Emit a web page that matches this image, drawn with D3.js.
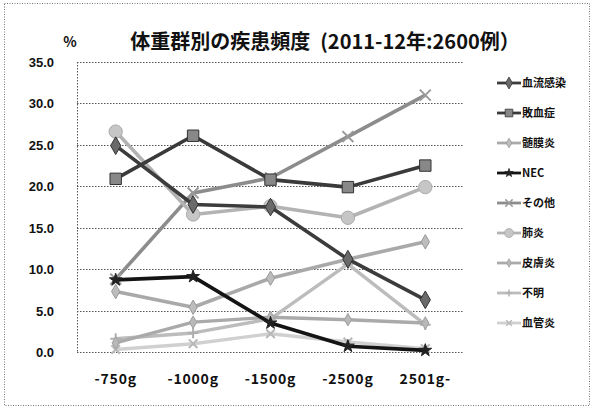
<!DOCTYPE html>
<html><head><meta charset="utf-8">
<script src="https://cdn.jsdelivr.net/npm/d3@7"></script>
<style>
body{margin:0;background:#fff;}
svg{display:block;}
</style></head>
<body>
<script>
const categories = ["-750g","-1000g","-1500g","-2500g","2501g-"];
const seriesNames = ["血流感染","敗血症","髄膜炎","NEC","その他","肺炎","皮膚炎","不明","血管炎"];
const s_bsi   = [24.9, 17.8, 17.5, 11.2, 6.3];
const s_sepsis= [20.9, 26.1, 20.8, 19.9, 22.5];
const s_menin = [7.3, 5.4, 8.9, 11.2, 13.3];
const s_nec   = [8.7, 9.1, 3.5, 0.7, 0.2];
const s_other = [8.8, 19.2, 21.0, 26.0, 31.0];
const s_pneu  = [26.6, 16.6, 17.6, 16.2, 19.9];
const s_skin  = [1.1, 3.6, 4.2, 3.9, 3.5];
const s_unk   = [1.6, 2.3, 4.0, 10.6, 3.3];
const s_vasc  = [0.3, 1.0, 2.2, 1.2, 0.4];
const yTicks = [0,5,10,15,20,25,30,35];
const title = "体重群別の疾患頻度\u2002(2011-12年:2600例）";
const yUnit = "%";

const seriesValues = [s_bsi,s_sepsis,s_menin,s_nec,s_other,s_pneu,s_skin,s_unk,s_vasc];
const styles = [
  {line:"#3c3c3c", w:3.6, sym:"diamond", fill:"#6a6a6a", stroke:"#333", size:90},
  {line:"#3a3a3a", w:3.6, sym:"square", fill:"#888", stroke:"#333", size:130},
  {line:"#a9a9a9", w:3.6, sym:"diamond", fill:"#bdbdbd", stroke:"#999", size:60},
  {line:"#141414", w:3.6, sym:"star", fill:"#222", stroke:"#222", size:50},
  {line:"#8c8c8c", w:3.6, sym:"times", fill:"none", stroke:"#9a9a9a", size:80},
  {line:"#b3b3b3", w:3.6, sym:"circle", fill:"#c6c6c6", stroke:"#aaa", size:140},
  {line:"#aaaaaa", w:3.4, sym:"diamond", fill:"#b8b8b8", stroke:"#a0a0a0", size:45},
  {line:"#bcbcbc", w:3.4, sym:"plus", fill:"none", stroke:"#b0b0b0", size:40},
  {line:"#d0d0d0", w:3.4, sym:"times", fill:"none", stroke:"#b8b8b8", size:50}
];

const W=594,H=409;
const svg=d3.select("body").append("svg").attr("width",W).attr("height",H)
  .style("font-family","'Noto Sans CJK JP','Noto Sans',sans-serif");

svg.append("rect").attr("x",4.5).attr("y",3.5).attr("width",585).attr("height",402)
  .attr("fill","none").attr("stroke","#777").attr("stroke-dasharray","1,1.5");

const pL=77,pR=464,pT=62,pB=352;
const x=d3.scaleBand().domain(categories).range([pL,pR]);
const y=d3.scaleLinear().domain([0,35]).range([pB,pT]);
const cx=c=>x(c)+x.bandwidth()/2;

// title
svg.append("text").attr("x",325).attr("y",49).attr("text-anchor","middle")
  .attr("font-size",20).attr("font-weight","bold").attr("fill","#111").text(title);
svg.append("text").attr("x",70).attr("y",47).attr("text-anchor","middle")
  .attr("font-size",14).attr("font-weight","bold").attr("fill","#111").text(yUnit);

// gridlines
svg.append("g").selectAll("line").data(yTicks).join("line")
  .attr("x1",pL).attr("x2",pR).attr("y1",d=>Math.round(y(d))+0.5).attr("y2",d=>Math.round(y(d))+0.5)
  .attr("stroke","#555").attr("stroke-dasharray","1.5,1.5");
svg.append("line").attr("x1",pL+0.5).attr("x2",pL+0.5).attr("y1",pT).attr("y2",pB)
  .attr("stroke","#555").attr("stroke-dasharray","1.5,1.5");

// y axis labels via axis
const yAxis=svg.append("g").attr("transform",`translate(${pL-20},0)`)
  .call(d3.axisLeft(y).tickValues(yTicks).tickFormat(d3.format(".1f")).tickSize(0));
yAxis.select(".domain").remove();
yAxis.selectAll("text").attr("font-size",13).attr("font-weight","bold").attr("fill","#111")
  .attr("font-family","'Liberation Sans',Arial,sans-serif").attr("dy","0.35em");

// x axis labels
const xAxis=svg.append("g").attr("transform",`translate(0,${pB+19})`)
  .call(d3.axisBottom(x).tickSize(0));
xAxis.select(".domain").remove();
xAxis.selectAll("text").attr("font-size",14).attr("font-weight","bold").attr("fill","#111")
  .style("letter-spacing","0.8px").attr("font-family","'Noto Sans CJK JP',sans-serif");

function symPath(s,size){
  const m={diamond:d3.symbolDiamond,square:d3.symbolSquare,circle:d3.symbolCircle,
    star:d3.symbolStar,times:d3.symbolTimes||d3.symbolCross,plus:d3.symbolPlus||d3.symbolCross};
  return d3.symbol().type(m[s]).size(size)();
}

const line=d3.line().x((d,i)=>cx(categories[i])).y(d=>y(d));
const order=[8,7,6,4,2,5,0,1,3];
const gS=svg.append("g");
order.forEach(k=>{
  const st=styles[k], vals=seriesValues[k];
  const g=gS.append("g");
  g.append("path").attr("d",line(vals)).attr("fill","none").attr("stroke",st.line)
    .attr("stroke-width",st.w).attr("stroke-linejoin","round");
  g.selectAll("path.m").data(vals).join("path").attr("class","m")
    .attr("transform",(d,i)=>`translate(${cx(categories[i])},${y(d)})`)
    .attr("d",symPath(st.sym,st.size))
    .attr("fill",st.fill==="none"?"none":st.fill).attr("stroke",st.stroke)
    .attr("stroke-width",st.fill==="none"?2:1);
});

// legend
const lg=svg.append("g");
seriesNames.forEach((n,k)=>{
  const st=styles[k]; const yy=83+k*30.0;
  lg.append("line").attr("x1",497).attr("x2",521).attr("y1",yy).attr("y2",yy)
    .attr("stroke",st.line).attr("stroke-width",2.8);
  lg.append("path").attr("transform",`translate(509,${yy})`).attr("d",symPath(st.sym,st.size*0.45))
    .attr("fill",st.fill==="none"?"none":st.fill).attr("stroke",st.stroke).attr("stroke-width",st.fill==="none"?1.5:0.8);
  lg.append("text").attr("x",522).attr("y",yy).attr("dy","0.35em").attr("font-size",11)
    .attr("font-weight","bold").attr("fill","#111").text(n);
});
</script>
</body></html>
